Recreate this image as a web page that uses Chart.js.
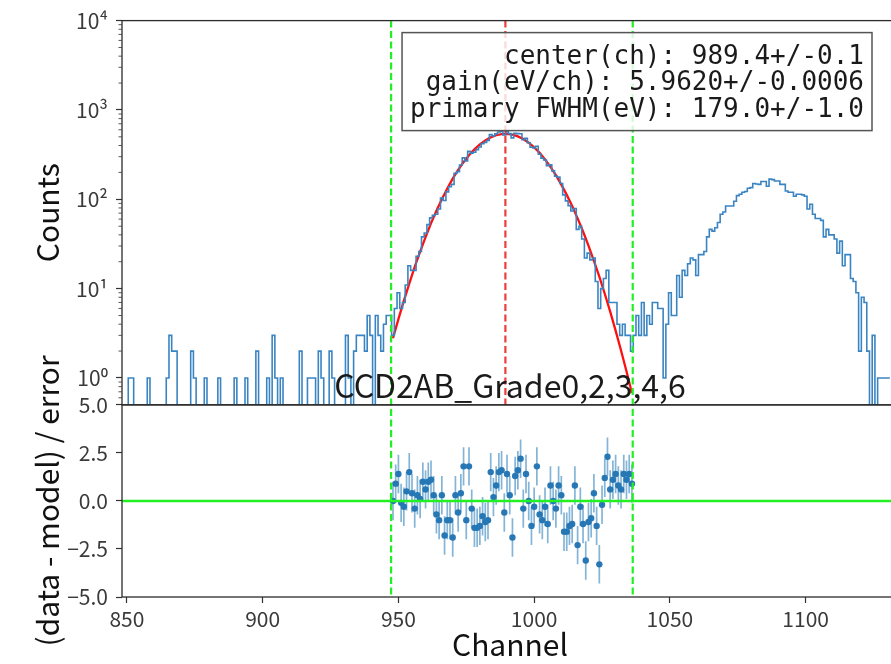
<!DOCTYPE html>
<html>
<head>
<meta charset="utf-8">
<script src="https://cdn.jsdelivr.net/npm/chart.js@4.4.1/dist/chart.umd.min.js"></script>
<style>
  html, body { margin: 0; padding: 0; background: #fff; overflow: hidden; }
</style>
</head>
<body>
<canvas id="myChart" width="905" height="664"></canvas>
<script>
  // histogram counts, one bin per channel starting at firstChannel
  var firstChannel = 849;
  var counts = [
    0, 0, 1, 1, 0, 0, 0, 0, 0, 1,
    0, 0, 0, 0, 0, 0, 1, 3, 2, 2,
    0, 0, 0, 0, 0, 2, 1, 0, 0, 0,
    1, 0, 0, 0, 0, 1, 0, 0, 0, 0,
    0, 1, 0, 0, 0, 1, 0, 0, 0, 2,
    0, 0, 0, 1, 0, 3, 1, 0, 1, 0,
    0, 0, 0, 0, 0, 2, 0, 0, 1, 1,
    1, 0, 2, 1, 0, 0, 2, 1, 0, 0,
    0, 0, 3, 1, 0, 2, 3, 3, 3, 2,
    5, 3, 0, 5, 3, 2, 4, 5, 5,
    // 948 - 1036 (fit range)
    3, 6, 9, 6, 7, 11, 18, 16, 16, 23,
    26, 38, 42, 52, 62, 66, 68, 78, 103, 97,
    121, 138, 147, 195, 204, 242, 291, 269, 344, 329,
    336, 360, 385, 419, 433, 455, 529, 513, 540, 566,
    575, 526, 572, 543, 487, 549, 543, 541, 463, 483,
    430, 382, 376, 393, 319, 289, 275, 237, 243, 208,
    181, 177, 150, 112, 96, 85, 74, 79, 46, 50,
    36, 22, 25, 21, 22, 12, 6, 10, 13, 16,
    7, 7, 7, 4, 3, 4, 3, 3, 2,
    // 1037 - 1131
    3, 5, 3, 7, 3, 5, 4, 7, 7, 6,
    6, 1, 4, 9, 5, 5, 14, 8, 16, 14,
    19, 22, 21, 14, 24, 24, 26, 38, 46, 44,
    48, 55, 68, 72, 84, 84, 84, 95, 110, 114,
    120, 122, 133, 135, 150, 148, 147, 158, 158, 140,
    168, 166, 160, 160, 147, 147, 124, 120, 120, 108,
    114, 114, 112, 108, 78, 88, 68, 61, 61, 58,
    38, 46, 40, 40, 36, 25, 34, 18, 24, 24,
    13, 12, 9, 2, 8, 7, 2, 0, 3, 0,
    1, 1, 1, 1, 1
  ];

  // fitted gaussian, every 2 channels from modelFirstChannel
  var modelFirstChannel = 948;
  var modelStep = 2;
  var modelCounts = [
    2.78, 4.55, 7.30, 11.4, 17.5, 26.0, 37.8, 53.7, 74.3, 100,
    132, 170, 213, 260, 311, 362, 411, 456, 494, 521,
    537, 539, 529, 506, 472, 430, 382, 331, 280, 231,
    186, 146, 112, 84.0, 61.2, 43.6, 30.3, 20.5, 13.6, 8.76,
    5.52, 3.39, 2.03, 1.19, 0.68
  ];

  // (data - model) / error, one per channel in the fit range
  var residualFirstChannel = 948;
  var residuals = [
    0.0, 0.9, 1.4, -0.1, -0.3, 0.5, 1.5, 0.4, -0.4, 0.3,
    0.1, 1.0, 0.6, 1.0, 1.1, 0.3, -0.7, -1.0, 0.3, -1.8,
    -1.0, -1.0, -1.9, 0.3, -0.6, 0.4, 1.8, -1.0, 1.8, -0.4,
    -1.4, -1.4, -1.3, -0.8, -1.1, -1.0, 1.5, 0.2, 0.8, 1.5,
    1.6, -0.6, 1.4, 0.3, -1.9, 1.3, 1.6, 2.2, -0.4, 1.4,
    0.0, -1.3, -0.3, 1.8, -0.7, -1.0, -0.3, -1.2, 0.8, 0.0,
    -0.4, 0.8, 0.3, -1.6, -1.6, -1.3, -1.2, 0.8, -2.3, -0.3,
    -1.2, -3.1, -1.1, -0.9, 0.4, -1.3, -3.3, -0.2, 1.2, 2.3,
    0.6, 1.1, 1.4, 0.8, 0.6, 1.4, 1.1, 1.4, 0.9
  ];
  var residualError = 1.0;

  var fitLow = 947.3;
  var fitHigh = 1036.3;
  var fitCenter = 989.4;

  var xMin = 848.2, xMax = 1134;
  var countMin = 0.5, countMax = 10000;

  var xTicks = [850, 900, 950, 1000, 1050, 1100];
  var countTicks = [1, 10, 100, 1000, 10000];
  var countTickLabels = ['10\u2070', '10\u00b9', '10\u00b2', '10\u00b3', '10\u2074'];
  var residualTicks = [-5, -2.5, 0, 2.5, 5];
  var residualTickLabels = ['\u22125.0', '\u22122.5', '0.0', '2.5', '5.0'];

  var fitText = [
    'center(ch): 989.4+/-0.1',
    'gain(eV/ch): 5.9620+/-0.0006',
    'primary FWHM(eV): 179.0+/-1.0'
  ];
  var panelTitle = 'CCD2AB_Grade0,2,3,4,6';

  var sans = '"Noto Sans CJK JP", "Noto Sans", sans-serif';

  // build points
  var histPoints = counts.map(function (c, i) {
    return { x: firstChannel + i, y: Math.max(c, countMin) };
  });
  var modelPoints = modelCounts.map(function (m, i) {
    return { x: modelFirstChannel + i * modelStep, y: m };
  });
  var resPoints = residuals.map(function (r, i) {
    return { x: residualFirstChannel + i, y: r };
  });
  var errPoints = [];
  residuals.forEach(function (r, i) {
    var ch = residualFirstChannel + i;
    errPoints.push({ x: ch, y: r - residualError });
    errPoints.push({ x: ch, y: r + residualError });
    errPoints.push({ x: ch, y: null });
  });

  // spines, reference lines, minor ticks, text box
  var decorPlugin = {
    id: 'decor',
    afterDatasetsDraw: function (chart) {
      var ctx = chart.ctx;
      var x = chart.scales.x, y = chart.scales.y, yr = chart.scales.yRes;
      ctx.save();

      // zero line of residuals
      ctx.strokeStyle = '#22f022';
      ctx.lineWidth = 2.6;
      ctx.beginPath();
      var y0 = yr.getPixelForValue(0);
      ctx.moveTo(x.left, y0);
      ctx.lineTo(x.right, y0);
      ctx.stroke();

      // fit range and center
      ctx.setLineDash([7, 3.5]);
      ctx.lineWidth = 2.2;
      ctx.strokeStyle = '#22f022';
      [fitLow, fitHigh].forEach(function (v) {
        var px = x.getPixelForValue(v);
        ctx.beginPath();
        ctx.moveTo(px, y.top);
        ctx.lineTo(px, yr.bottom);
        ctx.stroke();
      });
      ctx.strokeStyle = 'rgba(235,40,40,0.9)';
      var pc = x.getPixelForValue(fitCenter);
      ctx.beginPath();
      ctx.moveTo(pc, y.top);
      ctx.lineTo(pc, y.bottom);
      ctx.stroke();
      ctx.setLineDash([]);

      // frames
      ctx.strokeStyle = '#2b2b2b';
      ctx.lineWidth = 1.3;
      ctx.strokeRect(x.left, y.top, x.right - x.left, y.bottom - y.top);
      ctx.strokeRect(x.left, yr.top, x.right - x.left, yr.bottom - yr.top);

      // minor log ticks
      ctx.lineWidth = 0.9;
      ctx.strokeStyle = '#444';
      for (var e = -1; e < 4; e++) {
        for (var m = 2; m < 10; m++) {
          var v = m * Math.pow(10, e);
          if (v <= countMin || v >= countMax) continue;
          var py = y.getPixelForValue(v);
          ctx.beginPath();
          ctx.moveTo(x.left, py);
          ctx.lineTo(x.left - 3.5, py);
          ctx.stroke();
        }
      }

      // fit result box
      ctx.font = '26px "DejaVu Sans Mono", monospace';
      var boxRight = x.right - 26;
      var boxTop = y.top + 12;
      var textW = 0;
      fitText.forEach(function (t) { textW = Math.max(textW, ctx.measureText(t).width); });
      var boxW = textW + 16;
      var boxH = 98;
      ctx.fillStyle = 'rgba(255,255,255,0.8)';
      ctx.fillRect(boxRight - boxW, boxTop, boxW, boxH);
      ctx.strokeStyle = '#555';
      ctx.lineWidth = 1.5;
      ctx.strokeRect(boxRight - boxW, boxTop, boxW, boxH);
      ctx.fillStyle = '#1a1a1a';
      ctx.textAlign = 'right';
      ctx.textBaseline = 'alphabetic';
      fitText.forEach(function (t, i) {
        ctx.fillText(t, boxRight - 8, boxTop + 31 + i * 26.5);
      });

      // residual panel title
      ctx.font = '32px ' + sans;
      ctx.textAlign = 'center';
      ctx.fillStyle = '#1a1a1a';
      ctx.fillText(panelTitle, (x.left + x.right) / 2, yr.top - 7);

      ctx.restore();
    }
  };

  var ctx = document.getElementById('myChart').getContext('2d');
  var chart = new Chart(ctx, {
    type: 'line',
    data: {
      datasets: [{
        label: 'data',
        data: histPoints,
        yAxisID: 'y',
        stepped: 'middle',
        borderColor: '#3a84c2',
        borderWidth: 1.6,
        pointRadius: 0,
        fill: false
      }, {
        label: 'model',
        data: modelPoints,
        yAxisID: 'y',
        borderColor: '#ff1010',
        borderWidth: 2.3,
        pointRadius: 0,
        fill: false
      }, {
        label: 'error',
        data: errPoints,
        yAxisID: 'yRes',
        borderColor: 'rgba(31,119,180,0.55)',
        borderWidth: 1.7,
        pointRadius: 0,
        spanGaps: false,
        fill: false
      }, {
        label: 'residual',
        data: resPoints,
        yAxisID: 'yRes',
        showLine: false,
        pointRadius: 3.2,
        pointBorderWidth: 0,
        pointBackgroundColor: '#2a78b5'
      }]
    },
    options: {
      responsive: false,
      animation: false,
      layout: { padding: { top: 20, right: 7, left: 0, bottom: 0 } },
      plugins: {
        legend: { display: false },
        tooltip: { enabled: false }
      },
      scales: {
        x: {
          type: 'linear',
          min: xMin,
          max: xMax,
          afterBuildTicks: function (s) { s.ticks = xTicks.map(function (v) { return { value: v }; }); },
          afterFit: function (s) { s.height = 67; },
          ticks: {
            autoSkip: false,
            maxRotation: 0,
            padding: 3,
            color: '#3a3a3a',
            font: { family: sans, size: 21 },
            callback: function (v) { return String(v); }
          },
          grid: { drawOnChartArea: false, drawTicks: true, tickLength: 6, tickColor: '#333', tickWidth: 1.2 },
          border: { display: false },
          title: { display: true, text: 'Channel', color: '#111', font: { family: sans, size: 30 }, padding: { top: 1, bottom: 1 } }
        },
        y: {
          type: 'logarithmic',
          position: 'left',
          stack: 'panels',
          stackWeight: 2,
          weight: 1,
          min: countMin,
          max: countMax,
          afterBuildTicks: function (s) { s.ticks = countTicks.map(function (v) { return { value: v }; }); },
          afterFit: function (s) { s.width = 122; },
          ticks: {
            autoSkip: false,
            padding: 8,
            color: '#3a3a3a',
            font: { family: sans, size: 21 },
            callback: function (v, i) { return countTickLabels[i]; }
          },
          grid: { drawOnChartArea: false, drawTicks: true, tickLength: 6, tickColor: '#333', tickWidth: 1.2 },
          border: { display: false },
          title: { display: true, text: 'Counts', color: '#111', font: { family: sans, size: 30 }, padding: { top: 30, bottom: 0 } }
        },
        yRes: {
          type: 'linear',
          position: 'left',
          stack: 'panels',
          stackWeight: 1,
          weight: 0,
          min: -5,
          max: 5,
          afterBuildTicks: function (s) { s.ticks = residualTicks.map(function (v) { return { value: v }; }); },
          afterFit: function (s) { s.width = 122; },
          ticks: {
            autoSkip: false,
            padding: 8,
            color: '#3a3a3a',
            font: { family: sans, size: 21 },
            callback: function (v, i) { return residualTickLabels[i]; }
          },
          grid: { drawOnChartArea: false, drawTicks: true, tickLength: 6, tickColor: '#333', tickWidth: 1.2 },
          border: { display: false },
          title: { display: true, text: '(data - model) / error', color: '#111', font: { family: sans, size: 30 }, padding: { top: 30, bottom: 0 } }
        }
      }
    },
    plugins: [decorPlugin]
  });
</script>
</body>
</html>
